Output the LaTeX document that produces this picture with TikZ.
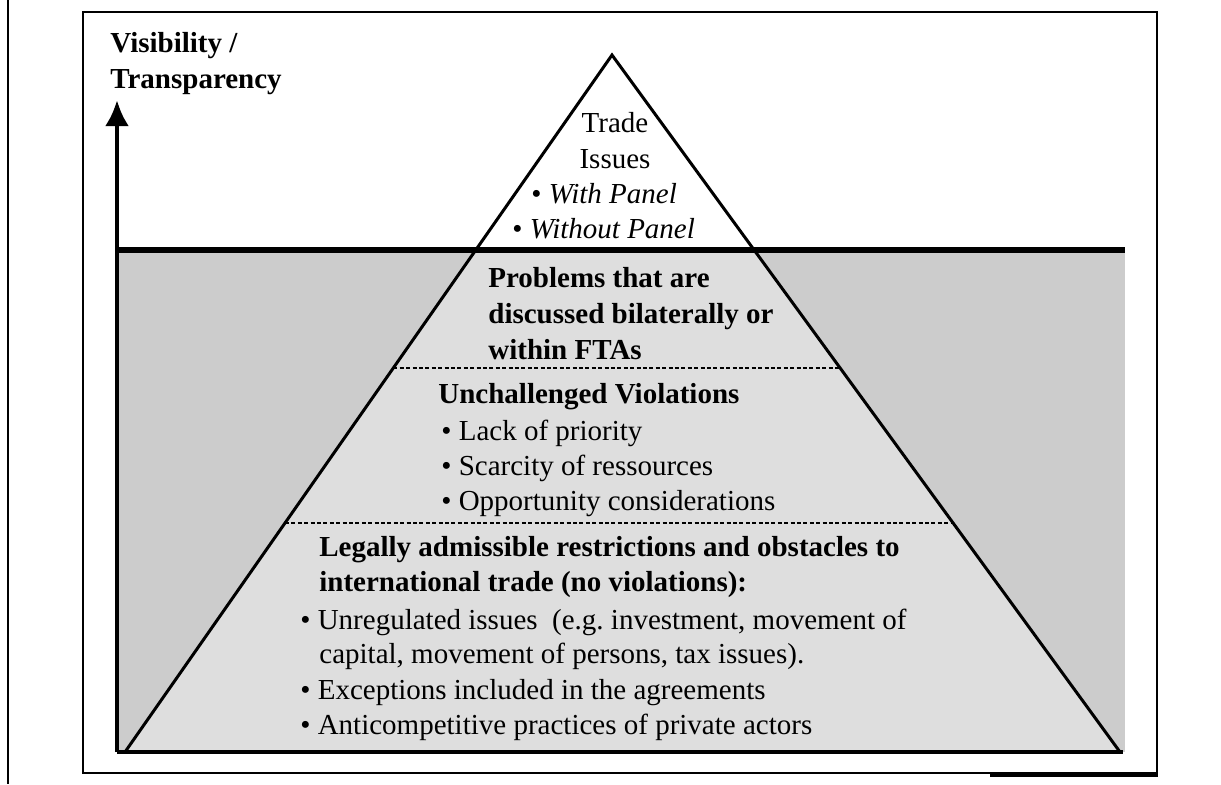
\documentclass[tikz,border=0pt]{standalone}
\usepackage{fontspec}
\setmainfont{Liberation Serif}
\usetikzlibrary{arrows.meta,calc}
\definecolor{outgrey}{gray}{0.80}
\definecolor{ingrey}{gray}{0.87}
\frenchspacing
\begin{document}
\begin{tikzpicture}[x=0.5pt,y=-0.5pt,
  txt/.style={anchor=base west,inner sep=0pt,font=\fontsize{14.5}{17.5}\selectfont},
  btxt/.style={anchor=base west,inner sep=0pt,font=\fontsize{14.5}{17.5}\selectfont\bfseries},
  ctxt/.style={anchor=base,inner sep=0pt,font=\fontsize{14.5}{17.5}\selectfont},
  divider/.style={dash pattern=on 2pt off 1.2pt,line width=0.6pt},
  frameline/.style={line width=0.8pt}]
\useasboundingbox (0,0) rectangle (1221,784);
\fill[white] (0,0) rectangle (1221,784);
% scan frame lines
\draw[frameline] (8,0) -- (8,784);
\draw[frameline] (83,12) rectangle (1157,773);
\draw[line width=2pt] (990,775) -- (1158,775);
% pyramid geometry
\coordinate (apex) at (612,55);
\coordinate (bl) at (125,752);
\coordinate (br) at (1120,752);
\coordinate (hl) at ($(apex)!0.2798!(bl)$);
\coordinate (hr) at ($(apex)!0.2798!(br)$);
\coordinate (d1l) at ($(apex)!0.4490!(bl)$);
\coordinate (d1r) at ($(apex)!0.4490!(br)$);
\coordinate (d2l) at ($(apex)!0.6714!(bl)$);
\coordinate (d2r) at ($(apex)!0.6714!(br)$);
% grey water region
\fill[outgrey] (117,250) rectangle (1125,752);
\fill[ingrey] (hl) -- (hr) -- (br) -- (bl) -- cycle;
% dashed dividers
\draw[divider] (d1l) -- (d1r);
\draw[divider] (d2l) -- (d2r);
% thick horizon line
\coordinate (hzl) at (117,250);
\coordinate (hzr) at (1125,250);
\draw[line width=3pt] (hzl) -- (hzr);
% triangle
\draw[line width=1.5pt,line join=miter] (apex) -- (bl) -- (br) -- cycle;
% bottom line
\coordinate (bot1) at (117,752);
\coordinate (bot2) at (1123,752);
\draw[line width=2pt] (bot1) -- (bot2);
% axis arrow
\coordinate (axtop) at (117,100);
\draw[line width=2.4pt,-{Latex[length=13pt,width=12pt]}] (bot1) -- (axtop);
% axis label
\node[btxt] (vis) at (110,52) {Visibility /};
\node[btxt] (transp) at (110,88) {Transparency};
% top
\node[ctxt] (t1) at (615,132) {Trade};
\node[ctxt] (t2) at (615,168) {Issues};
\node[txt] (t3) at (531,203) {\textbullet\ \textit{With Panel}};
\node[txt] (t4) at (512,238) {\textbullet\ \textit{Without Panel}};
% problems
\node[btxt] (p1) at (488,287) {Problems that are};
\node[btxt] (p2) at (488,323) {discussed bilaterally or};
\node[btxt] (p3) at (488,359) {within FTAs};
% unchallenged
\node[btxt] (u0) at (438,403) {Unchallenged Violations};
\node[txt] (u1) at (441,440) {\textbullet\ Lack of priority};
\node[txt] (u2) at (441,475) {\textbullet\ Scarcity of ressources};
\node[txt] (u3) at (441,510) {\textbullet\ Opportunity considerations};
% legal
\node[btxt] (l1) at (319,556) {Legally admissible restrictions and obstacles to};
\node[btxt] (l2) at (319,591) {international trade (no violations):};
\node[txt] (l3) at (300,629) {\textbullet\ Unregulated issues\ \ (e.g. investment, movement of};
\node[txt] (l4) at (319,663) {capital, movement of persons, tax issues).};
\node[txt] (l5) at (300,699) {\textbullet\ Exceptions included in the agreements};
\node[txt] (l6) at (300,734) {\textbullet\ Anticompetitive practices of private actors};
\end{tikzpicture}
\end{document}
